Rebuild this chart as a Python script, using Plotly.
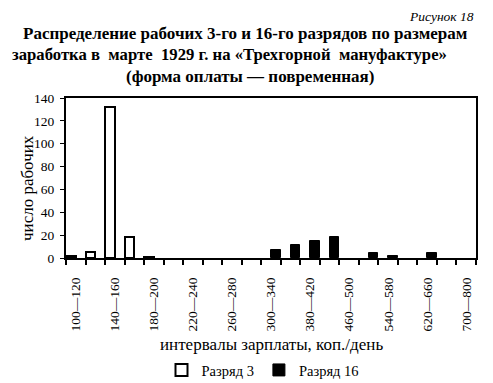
import plotly.graph_objects as go

categories = ["100—120", "120—140", "140—160", "160—180", "180—200", "200—220",
              "220—240", "240—260", "260—280", "280—300", "300—340", "340—380",
              "380—420", "420—460", "460—500", "500—540", "540—580", "580—620",
              "620—660", "660—700", "700—800"]
razryad3 = [2, 5, 132, 18, 1, None, None, None, None, None, None, None,
            None, None, None, None, None, None, None, None, None]
razryad16 = [None, None, None, None, None, None, None, None, None, None, 7, 11,
             15, 18, None, 4, 2, None, 4, None, None]
y_ticks = [0, 20, 40, 60, 80, 100, 120, 140]

FONT = "Liberation Serif"
idx = list(range(len(categories)))

fig = go.Figure()
fig.add_trace(go.Bar(x=idx, y=razryad3, name="Разряд 3",
                     marker=dict(color="white", line=dict(color="black", width=2))))
fig.add_trace(go.Bar(x=idx, y=razryad16, name="Разряд 16",
                     marker=dict(color="black", line=dict(color="black", width=1))))

# page body has an 8px default margin; work in screen coordinates and offset
OFF = 8
W, H = 493 - OFF, 383 - OFF
L, R, T, B = 66 - OFF, 17, 98 - OFF, 125
pw, ph = W - L - R, H - T - B

def px(x):
    return (x - OFF - L) / pw

def py(y):
    return (H - B - (y - OFF)) / ph

fig.update_layout(
    width=W, height=H,
    margin=dict(l=L, r=R, t=T, b=B, autoexpand=False),
    paper_bgcolor="white", plot_bgcolor="white",
    barmode="group", bargap=0, bargroupgap=0,
    font=dict(family=FONT, color="black", size=13),
    showlegend=True,
    legend=dict(orientation="h", xref="container", yref="container",
                x=(263 - OFF) / W, y=(H - (370 - OFF)) / H, xanchor="center", yanchor="middle",
                font=dict(family=FONT, size=14.5), itemwidth=30, tracegroupgap=0),
    xaxis=dict(range=[-0.5, len(categories) - 0.5], tickmode="array",
               tickvals=idx[::2], ticktext=categories[::2], tickangle=-90,
               ticks="", showgrid=False, zeroline=False, ticklabelstandoff=12,
               showline=True, linecolor="black", linewidth=2, mirror=True,
               tickfont=dict(family=FONT, size=13.5),
               minor=dict(tickmode="linear", tick0=0.5, dtick=1, ticks="outside",
                          ticklen=5, tickwidth=2, tickcolor="black", showgrid=False)),
    yaxis=dict(range=[0, 140], tickvals=y_ticks, ticks="outside", ticklen=4,
               tickwidth=1, tickcolor="black", showgrid=False, zeroline=False,
               showline=True, linecolor="black", linewidth=2, mirror=True,
               ticklabelstandoff=3,
               tickfont=dict(family=FONT, size=13.5)),
)

ann = [
    ("<i>Рисунок 18</i>", px(408), py(17), "left", dict(family=FONT, size=13.5), 0),
    ("<b>Распределение рабочих 3-го и 16-го разрядов по размерам</b>", px(245), py(33), "center", dict(family=FONT, size=17), 0),
    ("<b>заработка в  марте  1929 г. на «Трехгорной  мануфактуре»</b>", px(229), py(54.5), "center", dict(family=FONT, size=16.7), 0),
    ("<b>(форма оплаты — повременная)</b>", px(250), py(76), "center", dict(family=FONT, size=17), 0),
    ("интервалы зарплаты, коп./день", px(271), py(344), "center", dict(family=FONT, size=17), 0),
    ("число рабочих", px(27), py(188), "center", dict(family=FONT, size=17), -90),
]
for text, x, y, xa, f, ang in ann:
    fig.add_annotation(text=text, x=x, y=y, xref="paper", yref="paper",
                       xanchor=xa, yanchor="middle", showarrow=False,
                       font=f, textangle=ang, borderpad=0)

fig.write_html("out.html")
